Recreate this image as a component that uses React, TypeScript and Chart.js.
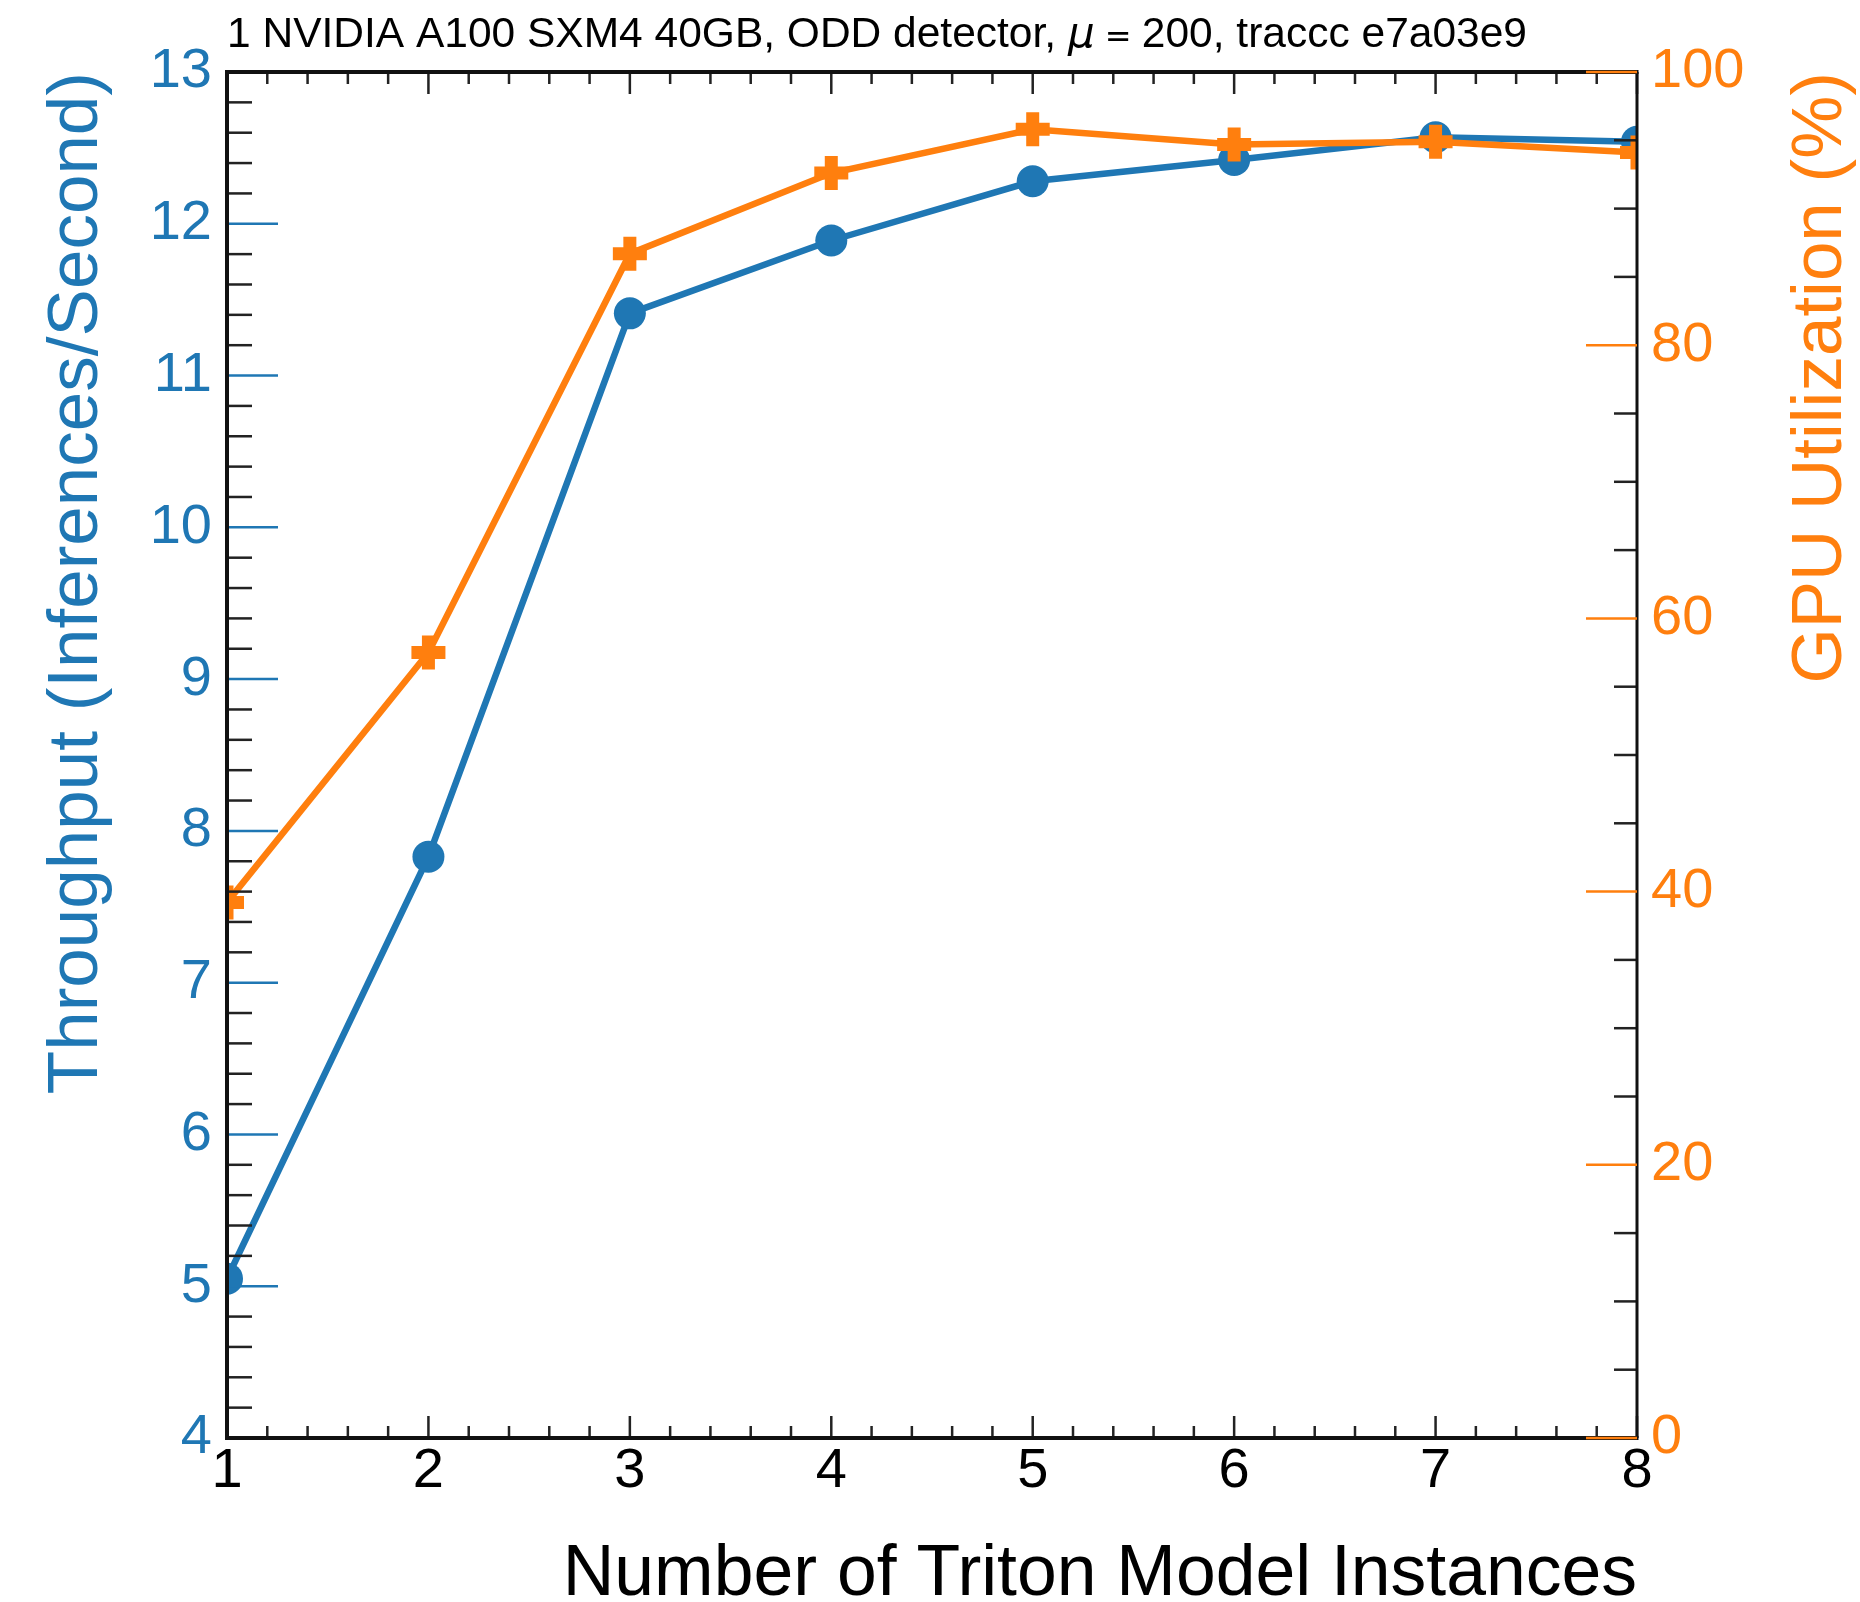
import React, { useEffect, useRef } from "react";
import { Chart, registerables } from "chart.js";

Chart.register(...registerables);

// ---------- data ----------
const instances = [1, 2, 3, 4, 5, 6, 7, 8];
const throughput = [5.05, 7.83, 11.41, 11.89, 12.28, 12.42, 12.57, 12.54];
const gpuUtilization = [39.2, 57.5, 86.7, 92.6, 95.8, 94.7, 94.9, 94.1];

// ---------- text ----------
const titleLead = "1 NVIDIA A100 SXM4 40GB, ODD detector, ";
const titleMu = "μ";
const titleEq = " = ";
const titleTail = "200, traccc e7a03e9";
const xTitle = "Number of Triton Model Instances";
const yLeftTitle = "Throughput (Inferences/Second)";
const yRightTitle = "GPU Utilization (%)";

// ---------- axes ----------
const xMin = 1;
const xMax = 8;
const xMajorStep = 1;
const xMinorStep = 0.2;
const yLeftMin = 4;
const yLeftMax = 13;
const yLeftMajorStep = 1;
const yLeftMinorStep = 0.2;
const yRightMin = 0;
const yRightMax = 100;
const yRightMajorStep = 20;
const yRightMinorStep = 5;

const BLUE = "#1f77b4";
const ORANGE = "#ff7f0e";
const TICK = "#222222";
const FONT = '"Liberation Sans", Arial, Helvetica, sans-serif';

function isMultiple(v: number, step: number) {
  const r = v / step;
  return Math.abs(r - Math.round(r)) < 1e-6;
}

function seg(ctx: CanvasRenderingContext2D, x1: number, y1: number, x2: number, y2: number) {
  ctx.beginPath();
  ctx.moveTo(x1, y1);
  ctx.lineTo(x2, y2);
  ctx.stroke();
}

const decorPlugin = {
  id: "decor",
  afterDatasetsDraw(chart: any) {
    const { ctx, chartArea: a, scales } = chart;
    const sx = scales.x;
    const yl = scales.y;
    const yr = scales.y1;
    ctx.save();
    ctx.lineCap = "butt";

    // left axis ticks (blue majors, black minors), inward
    const nL = Math.round((yLeftMax - yLeftMin) / yLeftMinorStep);
    for (let i = 0; i <= nL; i++) {
      const v = yLeftMin + i * yLeftMinorStep;
      const p = yl.getPixelForValue(v);
      const major = isMultiple(v - yLeftMin, yLeftMajorStep);
      ctx.strokeStyle = major ? BLUE : TICK;
      ctx.lineWidth = 2.5;
      seg(ctx, a.left, p, a.left + (major ? 51 : 25), p);
    }

    // right axis minor ticks (black)
    const nR = Math.round((yRightMax - yRightMin) / yRightMinorStep);
    for (let i = 0; i <= nR; i++) {
      const v = yRightMin + i * yRightMinorStep;
      if (isMultiple(v - yRightMin, yRightMajorStep)) continue;
      const p = yr.getPixelForValue(v);
      ctx.strokeStyle = TICK;
      ctx.lineWidth = 2.5;
      seg(ctx, a.right, p, a.right - 23, p);
    }

    // x ticks, bottom and top
    const nX = Math.round((xMax - xMin) / xMinorStep);
    for (let i = 0; i <= nX; i++) {
      const v = xMin + i * xMinorStep;
      const p = sx.getPixelForValue(v);
      const major = isMultiple(v - xMin, xMajorStep);
      const len = major ? 22 : 12;
      ctx.strokeStyle = TICK;
      ctx.lineWidth = 2.5;
      seg(ctx, p, a.bottom, p, a.bottom - len);
      seg(ctx, p, a.top, p, a.top + len);
    }

    // frame
    ctx.strokeStyle = "#111111";
    ctx.lineWidth = 4;
    seg(ctx, a.left, a.top, a.left, a.bottom);
    seg(ctx, a.left - 2, a.bottom, a.right + 1.5, a.bottom);
    seg(ctx, a.left - 2, a.top, a.right + 1.5, a.top);
    ctx.lineWidth = 3;
    seg(ctx, a.right, a.top, a.right, a.bottom);

    // right axis majors (orange), inward, on top of frame
    for (let i = 0; i <= nR; i++) {
      const v = yRightMin + i * yRightMinorStep;
      if (!isMultiple(v - yRightMin, yRightMajorStep)) continue;
      const p = yr.getPixelForValue(v);
      ctx.strokeStyle = ORANGE;
      ctx.lineWidth = 2.5;
      seg(ctx, a.right, p, a.right - 51, p);
    }
    ctx.restore();
  },
  afterDraw(chart: any) {
    const { ctx, chartArea: a } = chart;
    ctx.save();
    ctx.fillStyle = "#000000";
    ctx.textBaseline = "alphabetic";

    // top title
    let tx = a.left;
    const ty = 47;
    ctx.textAlign = "left";
    ctx.font = `42.5px ${FONT}`;
    ctx.fillText(titleLead, tx, ty);
    tx += ctx.measureText(titleLead).width;
    ctx.font = `italic 42px "DejaVu Sans", ${FONT}`;
    ctx.fillText(titleMu, tx, ty);
    tx += ctx.measureText(titleMu).width;
    ctx.font = `32px "DejaVu Sans", ${FONT}`;
    ctx.fillText(titleEq, tx, ty);
    tx += ctx.measureText(titleEq).width;
    ctx.font = `42.5px ${FONT}`;
    ctx.fillText(titleTail, tx, ty);

    // x title
    ctx.font = `71.5px ${FONT}`;
    ctx.textAlign = "right";
    ctx.fillText(xTitle, a.right, 1595);

    // left y title
    ctx.font = `71px ${FONT}`;
    ctx.save();
    ctx.translate(97, a.top);
    ctx.rotate(-Math.PI / 2);
    ctx.fillStyle = BLUE;
    ctx.textAlign = "right";
    ctx.fillText(yLeftTitle, 0, 0);
    ctx.restore();

    // right y title
    ctx.save();
    ctx.translate(1841, a.top);
    ctx.rotate(-Math.PI / 2);
    ctx.fillStyle = ORANGE;
    ctx.textAlign = "right";
    ctx.fillText(yRightTitle, 0, 0);
    ctx.restore();

    ctx.restore();
  },
};

export default function App() {
  const ref = useRef<HTMLCanvasElement | null>(null);

  useEffect(() => {
    if (!ref.current) return;
    const tickFont = { family: FONT, size: 56 };
    const chart = new Chart(ref.current, {
      type: "line",
      data: {
        datasets: [
          {
            label: "Throughput",
            data: instances.map((x, i) => ({ x, y: throughput[i] })),
            yAxisID: "y",
            borderColor: BLUE,
            backgroundColor: BLUE,
            borderWidth: 6.5,
            pointStyle: "circle",
            pointRadius: 16,
            pointBackgroundColor: BLUE,
            pointBorderWidth: 0,
            tension: 0,
            clip: 0,
            order: 2,
          },
          {
            label: "GPU Utilization",
            data: instances.map((x, i) => ({ x, y: gpuUtilization[i] })),
            yAxisID: "y1",
            borderColor: ORANGE,
            backgroundColor: ORANGE,
            borderWidth: 6.5,
            pointStyle: "cross",
            pointRadius: 17,
            pointBorderColor: ORANGE,
            pointBorderWidth: 13,
            tension: 0,
            clip: 0,
            order: 1,
          },
        ] as any,
      },
      options: {
        animation: false,
        responsive: false,
        devicePixelRatio: 1,
        events: [],
        layout: { padding: { top: 72, left: 0, right: 0, bottom: 0 } },
        plugins: {
          legend: { display: false },
          tooltip: { enabled: false },
          title: { display: false },
        },
        scales: {
          x: {
            type: "linear",
            position: "bottom",
            min: xMin,
            max: xMax,
            ticks: {
              stepSize: xMajorStep,
              color: "#000000",
              font: tickFont,
              padding: 0,
              maxRotation: 0,
              autoSkip: false,
            },
            grid: { display: false, drawTicks: false },
            border: { display: false },
            afterFit: (s: any) => {
              s.height = 164;
            },
          },
          y: {
            type: "linear",
            position: "left",
            min: yLeftMin,
            max: yLeftMax,
            ticks: { stepSize: yLeftMajorStep, color: BLUE, font: tickFont, padding: 15 },
            grid: { display: false, drawTicks: false },
            border: { display: false },
            afterFit: (s: any) => {
              s.width = 227;
            },
          },
          y1: {
            type: "linear",
            position: "right",
            min: yRightMin,
            max: yRightMax,
            ticks: { stepSize: yRightMajorStep, color: ORANGE, font: tickFont, padding: 14 },
            grid: { display: false, drawTicks: false },
            border: { display: false },
            afterFit: (s: any) => {
              s.width = 223;
            },
          },
        },
      } as any,
      plugins: [decorPlugin],
    });
    return () => chart.destroy();
  }, []);

  return (
    <div style={{ position: "fixed", left: 0, top: 0, width: 1860, height: 1602, background: "#ffffff" }}>
      <canvas ref={ref} width={1860} height={1602} style={{ display: "block", width: 1860, height: 1602 }} />
    </div>
  );
}
